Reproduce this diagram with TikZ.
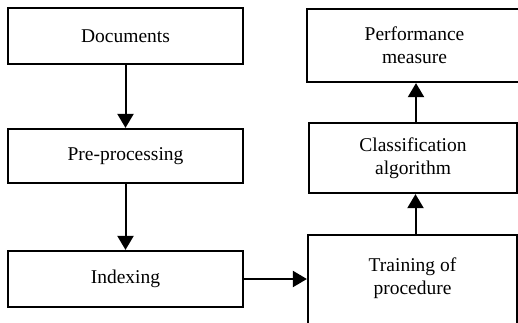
\documentclass[tikz,border=0pt]{standalone}
\usepackage{fontspec}
\setmainfont{Liberation Serif}
\usetikzlibrary{arrows.meta}
\begin{document}
\begin{tikzpicture}[x=1pt,y=-1pt,
  box/.style={draw,line width=2.2pt,align=center,inner sep=0pt,
    font=\fontsize{19.5}{23}\selectfont},
  arr/.style={line width=2pt,-{Triangle[width=16pt,length=14pt]}}]
\useasboundingbox (0,0) rectangle (518,322);
\clip (0,0) rectangle (518,322);
\node[box,minimum width=235pt,minimum height=56pt] (doc) at (125.5,36) {Documents};
\node[box,minimum width=235pt,minimum height=54pt] (pre) at (125.5,156) {Pre-processing};
\node[box,minimum width=235pt,minimum height=56pt] (idx) at (125.5,279) {Indexing};
\node[box,minimum width=215pt,minimum height=73pt] (perf) at (414.5,45.5) {Performance\\measure};
\node[box,minimum width=208pt,minimum height=70pt] (cls) at (413,158) {Classification\\algorithm};
\node[box,minimum width=209pt,minimum height=105pt,
  label={[box,draw=none,yshift=9pt]center:{Training of\\procedure}}] (trn) at (412.5,287.5) {};
\draw[arr] (doc) -- (pre);
\draw[arr] (pre) -- (idx);
\draw[arr] (idx.east) -- (idx.east -| trn.west);
\draw[arr] ([xshift=3pt]trn.north) -- ([xshift=3pt]trn.north |- cls.south);
\draw[arr] ([xshift=3pt]cls.north) -- ([xshift=3pt]cls.north |- perf.south);
\end{tikzpicture}
\end{document}
